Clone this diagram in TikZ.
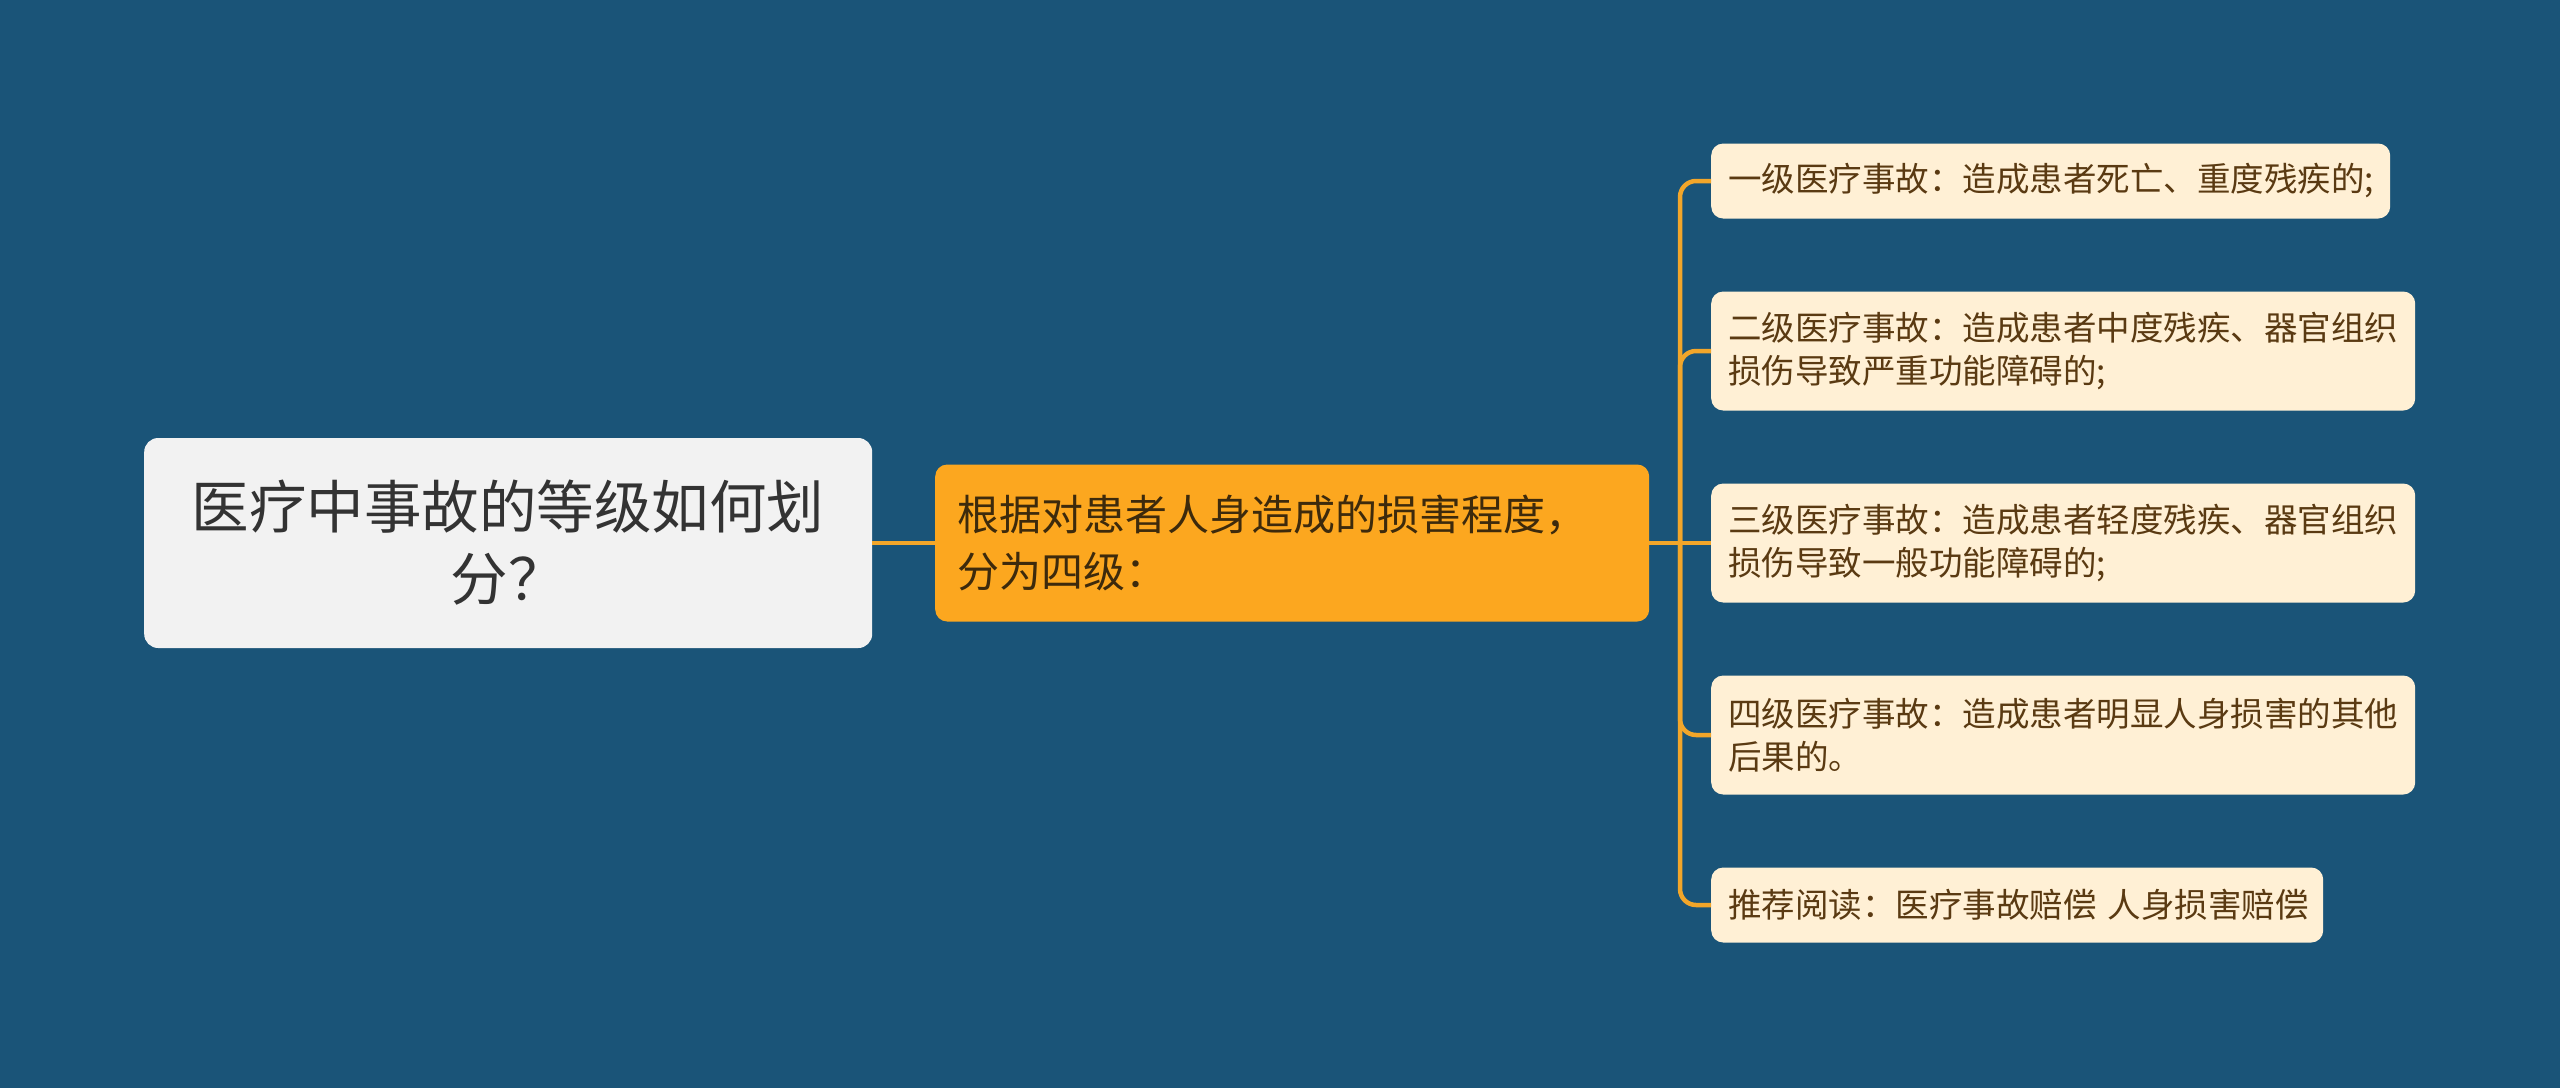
\documentclass[tikz,border=0pt]{standalone}
\usepackage{fontspec}
\setmainfont{Noto Sans CJK SC}
\definecolor{bg}{HTML}{1A5478}
\definecolor{rootfill}{HTML}{F2F2F2}
\definecolor{roottext}{HTML}{333333}
\definecolor{midfill}{HTML}{FCA71F}
\definecolor{midtext}{HTML}{3D2A0C}
\definecolor{leaffill}{HTML}{FFF0D5}
\definecolor{leaftext}{HTML}{5A3A12}
\definecolor{conn}{HTML}{F2A62A}
\tikzset{
  rootbox/.style={fill=rootfill, text=roottext, rounded corners=14pt, inner xsep=30pt, inner ysep=0pt,
    text width=668pt, align=center, minimum height=210pt, anchor=west, font=\fontsize{57.5}{72}\selectfont},
  midbox/.style={fill=midfill, text=midtext, rounded corners=12pt, inner xsep=22pt, inner ysep=0pt,
    text width=670pt, align=left, minimum height=157pt, anchor=west, font=\fontsize{42}{57}\selectfont},
  leafbox/.style={fill=leaffill, text=leaftext, rounded corners=12pt, inner xsep=17pt, inner ysep=0pt,
    align=left, anchor=west, font=\fontsize{33.5}{43}\selectfont},
  connline/.style={draw=conn, line width=4.5pt},
}
\begin{document}
\begin{tikzpicture}[x=1pt,y=-1pt]
\fill[bg] (0,0) rectangle (2560,1088);
\useasboundingbox (0,0) rectangle (2560,1088);

\node[rootbox] (root) at (144,543) {医疗中事故的等级如何划\\分？};
\node[midbox] (mid) at (935,543) {根据对患者人身造成的损害程度，\\分为四级：};

\node[leafbox, text width=645pt, minimum height=75pt] (l1) at (1711,181) {一级医疗事故：造成患者死亡、重度残疾的;};
\node[leafbox, text width=670pt, minimum height=119pt] (l2) at (1711,351) {二级医疗事故：造成患者中度残疾、器官组织\\损伤导致严重功能障碍的;};
\node[leafbox, text width=670pt, minimum height=119pt] (l3) at (1711,543) {三级医疗事故：造成患者轻度残疾、器官组织\\损伤导致一般功能障碍的;};
\node[leafbox, text width=670pt, minimum height=119pt] (l4) at (1711,735) {四级医疗事故：造成患者明显人身损害的其他\\后果的。};
\node[leafbox, text width=578pt, minimum height=75pt] (l5) at (1711,905) {\mbox{推荐阅读：医疗事故赔偿 人身损害赔偿}};

\coordinate (t) at (1680,543);
\draw[connline] (root.east) -- (mid.west);
\draw[connline] (mid.east) -- (l3.west);
\draw[connline, rounded corners=16pt] (t) |- (l1.west);
\draw[connline, rounded corners=16pt] (t) |- (l2.west);
\draw[connline, rounded corners=16pt] (t) |- (l4.west);
\draw[connline, rounded corners=16pt] (t) |- (l5.west);
\end{tikzpicture}
\end{document}
